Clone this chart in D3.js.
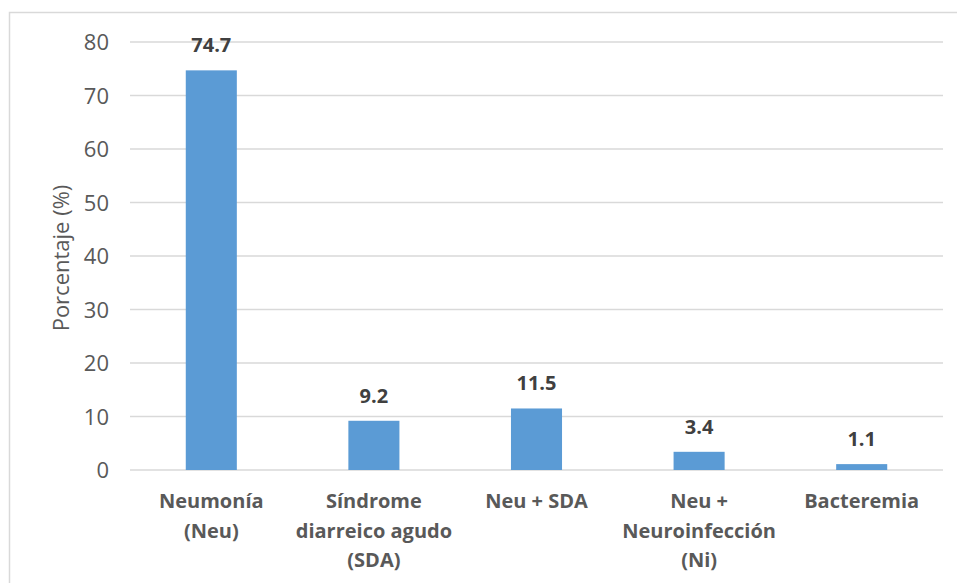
<!DOCTYPE html>
<html>
<head>
<meta charset="utf-8">
<script src="https://cdn.jsdelivr.net/npm/d3@7"></script>
<style>
  html, body { margin: 0; padding: 0; background: #fff; }
  svg { display: block; }
</style>
</head>
<body>
<svg id="chart" width="957" height="583"></svg>
<script>
// Categories (each line of a label is a separate entry)
const categories = [
  ["Neumonía", "(Neu)"],
  ["Síndrome", "diarreico agudo", "(SDA)"],
  ["Neu + SDA"],
  ["Neu +", "Neuroinfección", "(Ni)"],
  ["Bacteremia"]
];
const values = [74.7, 9.2, 11.5, 3.4, 1.1];
const yTicks = [0, 10, 20, 30, 40, 50, 60, 70, 80];
const yTitle = "Porcentaje (%)";

const svg = d3.select("#chart");
const W = 957, H = 583;
const font = "'Open Sans', 'Liberation Sans', sans-serif";

// chart frame
svg.append("rect")
  .attr("x", 9.5).attr("y", 12.5)
  .attr("width", W + 10).attr("height", H + 10)
  .attr("fill", "none").attr("stroke", "#d9d9d9").attr("stroke-width", 1.5);

const plot = { left: 130, right: 943, top: 42, bottom: 470 };

const x = d3.scaleBand()
  .domain(d3.range(categories.length))
  .range([plot.left, plot.right])
  .paddingInner(0.686)
  .paddingOuter(0.343);

const y = d3.scaleLinear().domain([0, 80]).range([plot.bottom, plot.top]);

// gridlines
svg.append("g")
  .selectAll("line")
  .data(yTicks)
  .join("line")
  .attr("x1", plot.left).attr("x2", plot.right)
  .attr("y1", d => y(d)).attr("y2", d => y(d))
  .attr("stroke", "#d9d9d9").attr("stroke-width", 1.5);

// y tick labels
const yAxis = d3.axisLeft(y).tickValues(yTicks).tickSize(0).tickPadding(0);
const gy = svg.append("g").attr("transform", `translate(${plot.left - 21},0)`).call(yAxis);
gy.select(".domain").remove();
gy.selectAll("text")
  .attr("font-family", font).attr("font-size", 22)
  .attr("fill", "#595959").attr("dy", "0.35em");

// y title
svg.append("text")
  .attr("transform", `translate(69,${(plot.top + plot.bottom) / 2 + 2}) rotate(-90)`)
  .attr("text-anchor", "middle")
  .attr("font-family", font).attr("font-size", 22)
  .attr("fill", "#595959")
  .text(yTitle);

// bars
svg.append("g")
  .selectAll("rect")
  .data(values)
  .join("rect")
  .attr("x", (d, i) => x(i))
  .attr("width", x.bandwidth())
  .attr("y", d => y(d))
  .attr("height", d => y(0) - y(d))
  .attr("fill", "#5b9bd5");

// value labels
svg.append("g")
  .selectAll("text")
  .data(values)
  .join("text")
  .attr("x", (d, i) => x(i) + x.bandwidth() / 2)
  .attr("y", d => y(d) - 18)
  .attr("text-anchor", "middle")
  .attr("font-family", font).attr("font-size", 20).attr("font-weight", 700)
  .attr("fill", "#404040")
  .text(d => d.toFixed(1));

// category labels
const cat = svg.append("g")
  .selectAll("text")
  .data(categories)
  .join("text")
  .attr("x", (d, i) => x(i) + x.bandwidth() / 2)
  .attr("y", plot.bottom + 38)
  .attr("text-anchor", "middle")
  .attr("font-family", font).attr("font-size", 20).attr("font-weight", 700)
  .attr("fill", "#595959");
cat.selectAll("tspan")
  .data(d => d)
  .join("tspan")
  .attr("x", function () { return d3.select(this.parentNode).attr("x"); })
  .attr("dy", (d, i) => i === 0 ? 0 : 29.5)
  .text(d => d);
</script>
</body>
</html>
